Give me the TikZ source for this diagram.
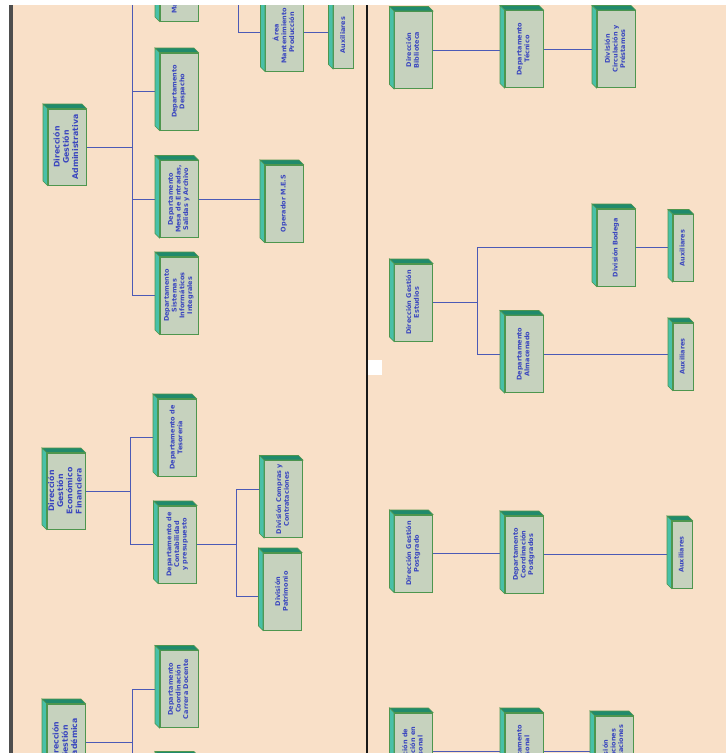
\documentclass[tikz,border=0pt]{standalone}
\usepackage{graphicx}
\usepackage{fontspec}
\setmainfont{DejaVu Sans}
\definecolor{orgpeach}{RGB}{249,224,200}
\definecolor{orgface}{RGB}{198,210,190}
\definecolor{orgline}{RGB}{78,150,78}
\definecolor{orgtop}{RGB}{32,138,108}
\definecolor{orgside}{RGB}{72,192,168}
\definecolor{orgtext}{RGB}{58,70,190}
\definecolor{orgconn}{RGB}{76,90,182}
\definecolor{orgbar}{RGB}{78,78,78}
\usetikzlibrary{calc,backgrounds}
\newcommand{\vlabel}[1]{\rotatebox{90}{\begin{tabular}{@{}c@{}}#1\end{tabular}}}

\begin{document}
\begin{tikzpicture}[x=1pt,y=-1pt,
  ubox/.style={draw=orgline,line width=1pt,fill=orgface,minimum width=38pt,minimum height=77pt,inner sep=0pt,text=orgtext,font=\bfseries\fontsize{6.5}{7.7}\selectfont},
  dirbox/.style={ubox,minimum height=76pt,font=\bfseries\fontsize{7.8}{9.2}\selectfont},
  auxbox/.style={ubox,minimum width=20pt,minimum height=67pt},
  boxtop/.style={fill=orgtop,draw=orgline,line width=0.6pt},
  boxside/.style={fill=orgside,draw=orgline,line width=0.6pt},
  conn/.style={line width=1pt,orgconn}]
  \useasboundingbox (0,0) rectangle (726,753);
  % Gestion Administrativa
  \node[dirbox] (dga) at (67,147) {\vlabel{Dirección\\Gestión\\Administrativa}};
  \node[ubox] (ma) at (179,-17.5) {\vlabel{Mantenimiento y\\Servicios}};
  \node[ubox] (despacho) at (179,91.5) {\vlabel{Departamento\\Despacho}};
  \node[ubox] (mesa) at (179,199) {\vlabel{Departamento\\Mesa de Entradas,\\Salidas y Archivo}};
  \node[ubox] (sistemas) at (179,295.5) {\vlabel{Departamento\\Sistemas\\Informáticos\\Integrales}};
  \node[ubox] (area) at (284.5,32.5) {\vlabel{Área\\Mantenimiento y\\Producción}};
  \node[auxbox] (auxa) at (343.5,35) {\vlabel{Auxiliares}};
  \node[ubox] (operador) at (284,203.5) {\vlabel{Operador M.E.S}};
  % Gestion Economico Financiera
  \node[dirbox] (dgef) at (66,491) {\vlabel{Dirección\\Gestión\\Económico\\Financiera}};
  \node[ubox] (tesoreria) at (177,437.5) {\vlabel{Departamento de\\Tesorería}};
  \node[ubox] (contab) at (177.5,544.5) {\vlabel{Departamento de\\Contabilidad\\y presupuesto}};
  \node[ubox] (compras) at (283.5,499) {\vlabel{División Compras y\\Contrataciones}};
  \node[ubox] (patrimonio) at (282.5,591.5) {\vlabel{División\\Patrimonio}};
  % Gestion Academica
  \node[dirbox] (dgac) at (66,742) {\vlabel{Dirección\\Gestión\\Académica}};
  \node[ubox] (docente) at (179,689) {\vlabel{Departamento\\Coordinación\\Carrera Docente}};
  \node[ubox] (acad2) at (179,795) {\vlabel{Departamento\\Coordinación\\Académica}};
  % Biblioteca
  \node[ubox] (biblio) at (413.5,50) {\vlabel{Dirección\\Biblioteca}};
  \node[ubox] (tecnico) at (524,49) {\vlabel{Departamento\\Técnico}};
  \node[ubox] (circ) at (616,49) {\vlabel{División\\Circulación y\\Préstamos}};
  % Estudios
  \node[ubox] (estudios) at (413.5,302.5) {\vlabel{Dirección Gestión\\Estudios}};
  \node[ubox] (bodega) at (616,247.5) {\vlabel{División Bodega}};
  \node[auxbox] (auxb) at (683,248) {\vlabel{Auxiliares}};
  \node[ubox] (almacen) at (524,354) {\vlabel{Departamento\\Almacenado}};
  \node[auxbox] (auxc) at (683,356.5) {\vlabel{Auxiliares}};
  % Postgrado
  \node[ubox] (postgrado) at (413.5,553.5) {\vlabel{Dirección Gestión\\Postgrado}};
  \node[ubox] (coordpos) at (524,554.5) {\vlabel{Departamento\\Coordinación\\Postgrados}};
  \node[auxbox] (auxd) at (682,554.5) {\vlabel{Auxiliares}};
  % Formacion
  \node[ubox] (dform) at (413.5,751.5) {\vlabel{Dirección de\\Formación en\\Personal}};
  \node[ubox] (dpers) at (524,751.5) {\vlabel{Departamento\\Personal}};
  \node[ubox] (dcom) at (614,754.5) {\vlabel{División\\Orientaciones\\Comunicaciones}};
  % 3D faces
  \foreach \n in {dga,ma,despacho,mesa,sistemas,area,auxa,operador,dgef,tesoreria,contab,compras,patrimonio,dgac,docente,acad2,biblio,tecnico,circ,estudios,bodega,auxb,almacen,auxc,postgrado,coordpos,auxd,dform,dpers,dcom}{
    \filldraw[boxtop] (\n.north west) -- ++(-4.5,-4.5) -- ($(\n.north east)+(-4.5,-4.5)$) -- (\n.north east) -- cycle;
    \filldraw[boxside] (\n.north west) -- ++(-4.5,-4.5) -- ($(\n.south west)+(-4.5,-4.5)$) -- (\n.south west) -- cycle;
  }
  % connectors
  \begin{scope}[on background layer]
    \fill[orgpeach] (13,5) rectangle (726,753);
    \draw[conn] (dga.east) -- ++(46,0) coordinate (jadm);
    \draw[conn] (jadm) |- (ma.west);
    \draw[conn] (jadm) |- (despacho.west);
    \draw[conn] (jadm) |- (mesa.west);
    \draw[conn] (jadm) |- (sistemas.west);
    \draw[conn] (ma.east) -- ++(40,0) |- (area.west);
    \draw[conn] (area.east) -- (area.east -| auxa.west);
    \draw[conn] (mesa.east) -- (mesa.east -| operador.west);
    \draw[conn] (dgef.east) -- ++(45,0) coordinate (jfin);
    \draw[conn] (jfin) |- (tesoreria.west);
    \draw[conn] (jfin) |- (contab.west);
    \draw[conn] (contab.east) -- ++(39,0) coordinate (jcon);
    \draw[conn] (jcon) |- ($(compras.west)+(0,-10)$);
    \draw[conn] (jcon) |- ($(patrimonio.west)+(0,5)$);
    \draw[conn] (dgac.east) -- ++(47,0) coordinate (jaca);
    \draw[conn] (jaca) |- (docente.west);
    \draw[conn] (jaca) |- (acad2.west);
    \draw[conn] (biblio.east) -- (biblio.east -| tecnico.west);
    \draw[conn] (tecnico.east) -- (tecnico.east -| circ.west);
    \draw[conn] (estudios.east) -- ++(44,0) coordinate (jest);
    \draw[conn] (jest) |- (bodega.west);
    \draw[conn] (jest) |- (almacen.west);
    \draw[conn] (bodega.east) -- (bodega.east -| auxb.west);
    \draw[conn] (almacen.east) -- (almacen.east -| auxc.west);
    \draw[conn] (postgrado.east) -- (postgrado.east -| coordpos.west);
    \draw[conn] (coordpos.east) -- (coordpos.east -| auxd.west);
    \draw[conn] (dform.east) -- (dform.east -| dpers.west);
    \draw[conn] (dpers.east) -- (dpers.east -| dcom.west);
  \end{scope}
  % page edges
  \fill[white] (0,0) rectangle (726,5);
  \fill[white] (0,0) rectangle (9,753);
  \fill[orgbar] (9,5) rectangle (13,753);
  \draw[line width=1.5pt,black!90] (367,5) -- (367,753);
  \fill[white] (368,360) rectangle (382,375);
\end{tikzpicture}
\end{document}
